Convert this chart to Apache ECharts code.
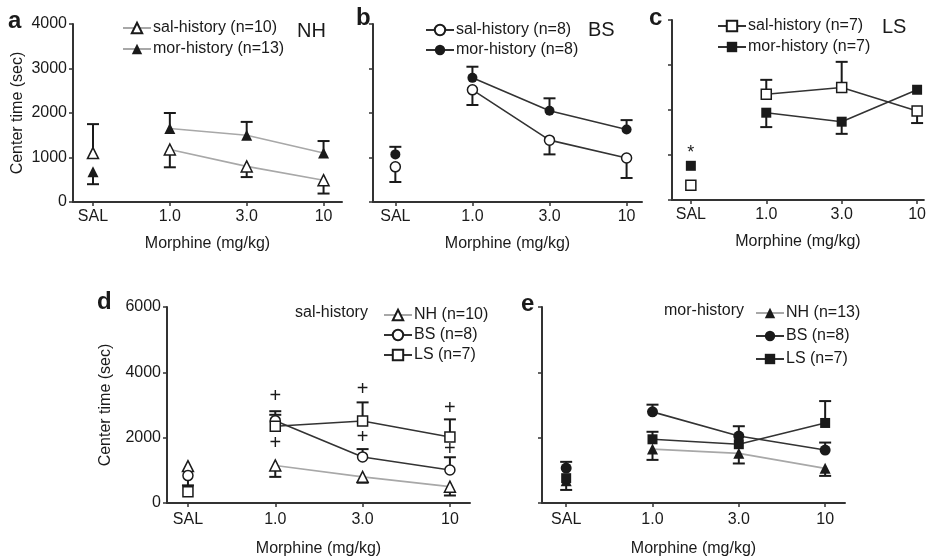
<!DOCTYPE html>
<html><head><meta charset="utf-8">
<script src="https://cdn.jsdelivr.net/npm/echarts@6/dist/echarts.min.js"></script>
<style>html,body{margin:0;padding:0;background:#fff}#c{width:929px;height:558px}</style>
</head><body><div id="c"></div>
<script>
// ---- categories / ticks ----
const doseLabels = ['SAL', '1.0', '3.0', '10'];
const doses = [0, 1, 2, 3];

// ---- panel a (NH) ----
const aSal = [1100, 1180, 800, 490];
const aSalErr = [1750, 780, 560, 190];
const aMor = [680, 1650, 1500, 1100];
const aMorErr = [400, 2000, 1800, 1370];
// ---- panel b (BS) ----
const bSal = [790, 2520, 1390, 990];
const bSalErr = [450, 2180, 1070, 540];
const bMor = [1070, 2790, 2050, 1630];
const bMorErr = [1240, 3040, 2330, 1840];
// ---- panel c (LS) ----
const cSal = [330, 2350, 2500, 1980];
const cSalErr = [null, 2670, 3070, 1710];
const cMor = [760, 1940, 1740, 2450];
const cMorErr = [null, 1620, 1470, null];
const cStar = [[0, 1090]];
// ---- panel d (sal-history) ----
const dNH = [1130, 1150, 800, 500];
const dNHErr = [null, 800, 620, 230];
const dBS = [840, 2520, 1410, 1010];
const dBSErr = [540, 2700, 1650, 1400];
const dLS = [345, 2350, 2510, 2020];
const dLSErr = [null, 2810, 3080, 2560];
const dPlus = [[1, 3250], [1, 1820], [2, 3480], [2, 2000], [3, 2880], [3, 1630]];
// ---- panel e (mor-history) ----
const eNH = [680, 1650, 1520, 1060];
const eNHErr = [400, 1320, 1210, 830];
const eBS = [1070, 2790, 2050, 1620];
const eBSErr = [1260, 3010, 2350, 1850];
const eLS = [760, 1950, 1800, 2450];
const eLSErr = [null, 2180, null, 3120];

const FONT = "'Liberation Sans', Arial, Helvetica, sans-serif";
const INK = '#1a1a1a';
const GREY = '#a8a8a8';

const chart = echarts.init(document.getElementById('c'), null, {renderer: 'canvas'});

const grids = [
  {left: 73, top: 24, width: 269, height: 178},
  {left: 373, top: 24, width: 269, height: 178},
  {left: 672, top: 20, width: 257, height: 180},
  {left: 167, top: 307, width: 303, height: 203},
  {left: 542, top: 307, width: 303, height: 202}
];
const xRanges = [[-0.26, 3.24], [-0.29, 3.2], [-0.25, 3.09], [-0.24, 3.23], [-0.28, 3.23]];

const xAxes = grids.map((g, i) => ({
  type: 'value', gridIndex: i, min: xRanges[i][0], max: xRanges[i][1],
  axisLine: {show: true, onZero: false, lineStyle: {color: '#333', width: 2}},
  axisTick: {show: true, customValues: doses, length: 4, lineStyle: {color: '#333', width: 1.5}},
  axisLabel: {show: true, customValues: doses, formatter: v => doseLabels[Math.round(v)],
    color: INK, fontSize: 16, fontFamily: FONT, margin: i < 3 ? 7 : 9},
  splitLine: {show: false},
  name: 'Morphine (mg/kg)', nameLocation: 'middle', nameGap: i < 3 ? 34 : 38,
  nameTextStyle: {color: INK, fontSize: 16, fontFamily: FONT}
}));

const yAxes = grids.map((g, i) => {
  const top = i < 3;
  return {
    type: 'value', gridIndex: i, min: 0, max: top ? 4000 : 6000, interval: top ? 1000 : 2000,
    axisLine: {show: true, onZero: false, lineStyle: {color: '#333', width: 2}},
    axisTick: {show: true, length: 4, lineStyle: {color: '#333', width: 1.5}},
    axisLabel: {show: i === 0 || i === 3, color: INK, fontSize: 16, fontFamily: FONT, margin: 6,
      formatter: v => String(v)},
    splitLine: {show: false},
    name: (i === 0 || i === 3) ? 'Center time (sec)' : '',
    nameLocation: 'middle', nameRotate: 90, nameGap: i === 0 ? 47 : 53,
    nameTextStyle: {color: INK, fontSize: 16, fontFamily: FONT}
  };
});

const series = [];
function group(name, vals, errs, idx, sym, filled, lineColor, size) {
  const style = {color: filled ? INK : '#fff', borderColor: INK, borderWidth: filled ? 0 : 1.5, opacity: 1};
  // connected doses (1.0, 3.0, 10)
  series.push({
    type: 'line', name: name, xAxisIndex: idx, yAxisIndex: idx,
    data: doses.slice(1).map((d, k) => [d, vals[k + 1]]),
    symbol: sym, symbolSize: size, showSymbol: true,
    itemStyle: style, lineStyle: {color: lineColor, width: 1.6},
    z: 4, silent: true, animation: false
  });
  // SAL point (not connected)
  series.push({
    type: 'scatter', name: name, xAxisIndex: idx, yAxisIndex: idx,
    data: [[doses[0], vals[0]]], symbol: sym, symbolSize: size,
    itemStyle: style, z: 4, silent: true, animation: false
  });
  // error bars
  const eb = [];
  doses.forEach((d, k) => { if (errs[k] !== null) eb.push([d, vals[k], errs[k]]); });
  series.push({
    type: 'custom', xAxisIndex: idx, yAxisIndex: idx, data: eb, z: 2, silent: true, animation: false,
    encode: {x: 0, y: [1, 2]},
    renderItem: function (params, api) {
      const p0 = api.coord([api.value(0), api.value(1)]);
      const p1 = api.coord([api.value(0), api.value(2)]);
      const hw = 6;
      return {type: 'group', children: [
        {type: 'line', shape: {x1: p0[0], y1: p0[1], x2: p1[0], y2: p1[1]}, style: {stroke: INK, lineWidth: 2}},
        {type: 'line', shape: {x1: p1[0] - hw, y1: p1[1], x2: p1[0] + hw, y2: p1[1]}, style: {stroke: INK, lineWidth: 2}}
      ]};
    }
  });
}
function marks(data, idx, ch, size, dy) {
  series.push({
    type: 'custom', xAxisIndex: idx, yAxisIndex: idx, data: data, z: 5, silent: true, animation: false,
    renderItem: function (params, api) {
      const p = api.coord([api.value(0), api.value(1)]);
      return {type: 'text', x: p[0], y: p[1] + dy, style: {text: ch, fill: INK, fontSize: size, fontFamily: FONT,
        align: 'center', verticalAlign: 'middle'}};
    }
  });
}

// panel a
group('sal-history (n=10)', aSal, aSalErr, 0, 'triangle', false, GREY, 11);
group('mor-history (n=13)', aMor, aMorErr, 0, 'triangle', true, GREY, 11);
// panel b
group('sal-history (n=8)', bSal, bSalErr, 1, 'circle', false, '#333', 10);
group('mor-history (n=8)', bMor, bMorErr, 1, 'circle', true, '#333', 10);
// panel c
group('sal-history (n=7)', cSal, cSalErr, 2, 'rect', false, '#333', 10);
group('mor-history (n=7)', cMor, cMorErr, 2, 'rect', true, '#333', 10);
marks(cStar, 2, '*', 18, 2);
// panel d
group('NH (n=10)', dNH, dNHErr, 3, 'triangle', false, GREY, 11);
group('BS (n=8)', dBS, dBSErr, 3, 'circle', false, '#333', 10);
group('LS (n=7)', dLS, dLSErr, 3, 'rect', false, '#333', 10);
marks(dPlus, 3, '+', 20, 0);
// panel e
group('NH (n=13)', eNH, eNHErr, 4, 'triangle', true, GREY, 11);
group('BS (n=8) ', eBS, eBSErr, 4, 'circle', true, '#333', 11);
group('LS (n=7) ', eLS, eLSErr, 4, 'rect', true, '#333', 10);

function legend(names, left, top, gap) {
  return {
    data: names, orient: 'vertical', left: left, top: top, padding: 0,
    itemWidth: 28, itemHeight: 13, itemGap: gap, selectedMode: false,
    formatter: n => n.trim(),
    textStyle: {color: INK, fontSize: 16, fontFamily: FONT, padding: [0, 0, 0, -3]}
  };
}

const legends = [
  legend(['sal-history (n=10)', 'mor-history (n=13)'], 122, 20, 5),
  legend(['sal-history (n=8)', 'mor-history (n=8)'], 425, 22, 4),
  legend(['sal-history (n=7)', 'mor-history (n=7)'], 717, 18, 5),
  legend(['NH (n=10)', 'BS (n=8)', 'LS (n=7)'], 383, 307, 4),
  legend(['NH (n=13)', 'BS (n=8) ', 'LS (n=7) '], 755, 305, 7)
];

const txt = (t, x, y, size, weight) => ({type: 'text', left: x, top: y,
  style: {text: t, fill: INK, fontSize: size, fontWeight: weight || 'normal', fontFamily: FONT}});

chart.setOption({
  animation: false,
  backgroundColor: '#fff',
  grid: grids,
  xAxis: xAxes,
  yAxis: yAxes,
  legend: legends,
  series: series,
  graphic: [
    txt('a', 8, 9, 24, 'bold'),
    txt('b', 356, 6, 24, 'bold'),
    txt('c', 649, 6, 24, 'bold'),
    txt('d', 97, 290, 24, 'bold'),
    txt('e', 521, 292, 24, 'bold'),
    txt('NH', 297, 21, 20),
    txt('BS', 588, 20, 20),
    txt('LS', 882, 17, 20),
    txt('sal-history', 295, 305, 16),
    txt('mor-history', 664, 303, 16)
  ]
});
</script></body></html>
